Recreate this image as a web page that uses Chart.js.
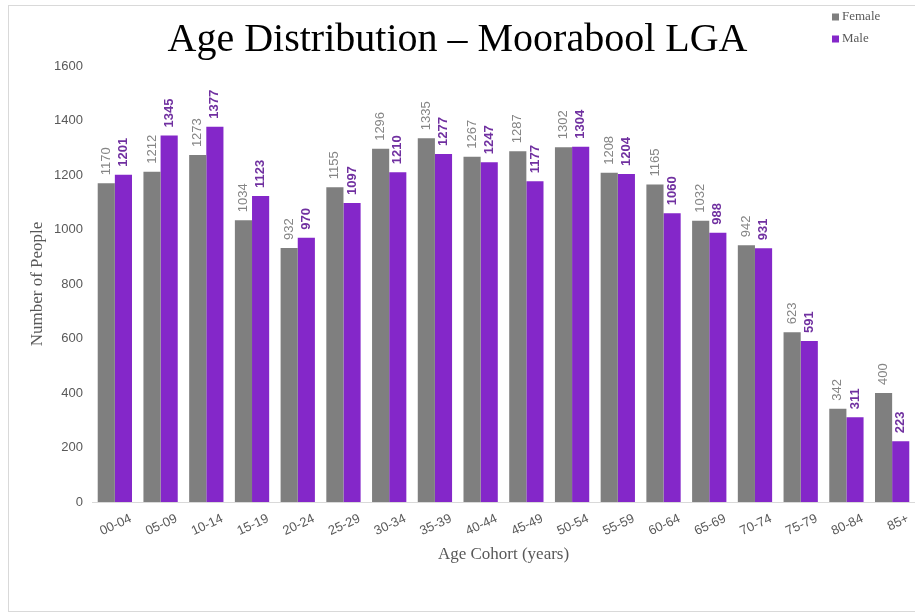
<!DOCTYPE html>
<html>
<head>
<meta charset="utf-8">
<script src="https://cdn.jsdelivr.net/npm/chart.js@4.4.1/dist/chart.umd.min.js"></script>
<style>
  html, body { margin: 0; padding: 0; background: #ffffff; }
  canvas { display: block; }
</style>
</head>
<body>
<canvas id="ageChart" width="915" height="613"></canvas>
<script>
// Population by five-year age cohort, Moorabool LGA
const ageCohorts = ['00-04', '05-09', '10-14', '15-19', '20-24', '25-29', '30-34', '35-39', '40-44',
                    '45-49', '50-54', '55-59', '60-64', '65-69', '70-74', '75-79', '80-84', '85+'];
const femaleCounts = [1170, 1212, 1273, 1034, 932, 1155, 1296, 1335, 1267, 1287, 1302, 1208, 1165, 1032, 942, 623, 342, 400];
const maleCounts   = [1201, 1345, 1377, 1123, 970, 1097, 1210, 1277, 1247, 1177, 1304, 1204, 1060, 988, 931, 591, 311, 223];
const yTickValues  = [0, 200, 400, 600, 800, 1000, 1200, 1400, 1600];

const FEMALE_COLOR = '#7f7f7f';
const MALE_COLOR = '#8427c9';
const TEXT_GREY = '#595959';

// White page with a thin frame around the chart
const chartFrame = {
  id: 'chartFrame',
  beforeDraw(chart) {
    const { ctx, width, height } = chart;
    ctx.save();
    ctx.fillStyle = '#ffffff';
    ctx.fillRect(0, 0, width, height);
    ctx.strokeStyle = '#d9d9d9';
    ctx.lineWidth = 1;
    ctx.strokeRect(8.5, 5.5, width + 10, height - 7);
    ctx.restore();
  }
};

// Vertical value labels above each bar
const barValueLabels = {
  id: 'barValueLabels',
  afterDatasetsDraw(chart) {
    const { ctx } = chart;
    chart.data.datasets.forEach((ds, i) => {
      const meta = chart.getDatasetMeta(i);
      meta.data.forEach((bar, j) => {
        ctx.save();
        ctx.font = ds.valueFont;
        ctx.fillStyle = ds.valueColor;
        ctx.translate(bar.x, bar.y - 8);
        ctx.rotate(-Math.PI / 2);
        ctx.textAlign = 'left';
        ctx.textBaseline = 'middle';
        ctx.fillText(String(ds.data[j]), 0, 0);
        ctx.restore();
      });
    });
  }
};

// Compact stacked legend in the top-right corner
const cornerLegend = {
  id: 'cornerLegend',
  afterDraw(chart) {
    const { ctx } = chart;
    const x = 832, y0 = 17, rowGap = 22;
    chart.data.datasets.forEach((ds, i) => {
      const y = y0 + i * rowGap;
      ctx.save();
      ctx.fillStyle = ds.backgroundColor;
      ctx.fillRect(x, y - 3.5, 7, 7);
      ctx.fillStyle = TEXT_GREY;
      ctx.font = '13px "Liberation Serif"';
      ctx.textAlign = 'left';
      ctx.textBaseline = 'middle';
      ctx.fillText(ds.label, x + 10, y);
      ctx.restore();
    });
  }
};

new Chart(document.getElementById('ageChart'), {
  type: 'bar',
  data: {
    labels: ageCohorts,
    datasets: [
      {
        label: 'Female',
        data: femaleCounts,
        backgroundColor: FEMALE_COLOR,
        valueColor: '#858585',
        valueFont: '13px "Liberation Sans"',
        barPercentage: 1,
        categoryPercentage: 0.75
      },
      {
        label: 'Male',
        data: maleCounts,
        backgroundColor: MALE_COLOR,
        valueColor: '#7030a0',
        valueFont: 'bold 13px "Liberation Sans"',
        barPercentage: 1,
        categoryPercentage: 0.75
      }
    ]
  },
  options: {
    responsive: false,
    animation: false,
    layout: { padding: { left: 0, right: 0, top: 0, bottom: 0 } },
    plugins: {
      legend: { display: false },
      tooltip: { enabled: false },
      title: {
        display: true,
        text: 'Age Distribution – Moorabool LGA',
        color: '#000000',
        font: { family: 'Liberation Serif', size: 40, weight: 'normal' },
        padding: { top: 16, bottom: 2 }
      }
    },
    scales: {
      x: {
        grid: { display: false, drawTicks: false },
        border: { display: true, color: '#d9d9d9', width: 1 },
        ticks: {
          color: TEXT_GREY,
          font: { family: 'Liberation Sans', size: 13 },
          minRotation: 25,
          maxRotation: 25,
          autoSkip: false,
          padding: 9,
          labelOffset: 16
        },
        title: {
          display: true,
          text: 'Age Cohort (years)',
          color: TEXT_GREY,
          font: { family: 'Liberation Serif', size: 17 },
          padding: { top: 0, bottom: 48 }
        },
        afterFit(scale) { scale.height = 111; }
      },
      y: {
        min: 0,
        max: 1600,
        afterBuildTicks(scale) { scale.ticks = yTickValues.map(v => ({ value: v })); },
        grid: { display: false, drawTicks: false },
        border: { display: false },
        ticks: {
          color: TEXT_GREY,
          font: { family: 'Liberation Sans', size: 13 },
          padding: 9,
          callback: (value) => String(value)
        },
        title: {
          display: true,
          text: 'Number of People',
          color: TEXT_GREY,
          font: { family: 'Liberation Serif', size: 17 },
          padding: { top: 27, bottom: 0 }
        },
        afterFit(scale) { scale.width = 92; }
      }
    }
  },
  plugins: [chartFrame, barValueLabels, cornerLegend]
});
</script>
</body>
</html>
